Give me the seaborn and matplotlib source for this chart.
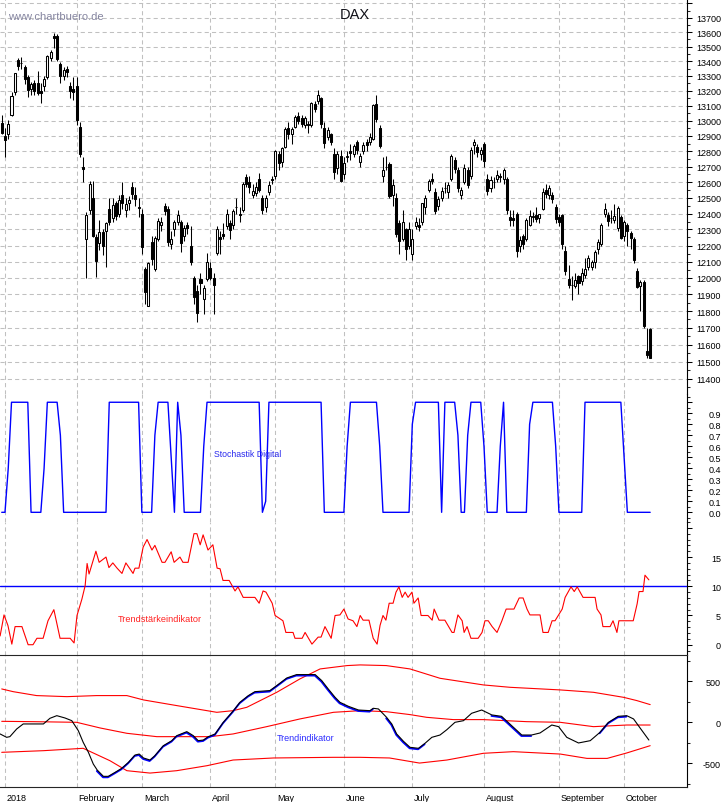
import numpy as np
import pandas as pd
import matplotlib
matplotlib.use("Agg")
import matplotlib.pyplot as plt
import matplotlib.transforms as mtransforms
from matplotlib.ticker import FixedLocator, FuncFormatter, NullFormatter
import seaborn as sns

sns.set_style("white")
plt.rcParams["font.family"] = ["Liberation Sans", "DejaVu Sans"]

# trading calendar (Xetra), position 0 = 2 Jan 2018
holidays = ["2018-01-01", "2018-03-30", "2018-04-02", "2018-05-01", "2018-05-21", "2018-10-03"]
month_names = ["2018", "February", "March", "April", "May", "June", "July",
               "August", "September", "October"]

# DAX daily candles, 29 Dec 2017 .. 12 Oct 2018
open_ = [12985,
         12900, 12910, 13040, 13190, 13405, 13390, 13360, 13290, 13215, 13250, 13255, 13200, 13230, 13290, 13420, 13570, 13575, 13380, 13300, 13350, 13230, 13210,
         13230, 12960, 12700, 12240, 12420, 12500, 12255, 12215, 12285, 12290, 12430, 12370, 12470, 12400, 12520, 12420, 12470, 12570, 12520, 12440,
         12400, 12055, 11831, 12225, 12055, 12240, 12330, 12450, 12430, 12210, 12300, 12350, 12350, 12260, 12330, 12200, 12000, 11920, 11995, 11872, 11995,
         12060, 12002, 12155, 12250, 12270, 12320, 12340, 12330, 12440, 12400, 12420, 12630, 12600, 12520, 12530, 12620, 12500, 12440, 12540, 12620,
         12640, 12780, 12730, 12830, 12950, 12910, 12960, 13030, 13020, 12970, 12980, 12975, 13110, 13130, 13150, 12950, 12890, 12910, 12780, 12690, 12770,
         12650, 12760, 12800, 12780, 12860, 12730, 12800, 12860, 12860, 12880, 13110, 12950, 12640, 12700, 12720, 12520, 12500, 12340, 12240, 12300, 12200,
         12150, 12320, 12330, 12350, 12440, 12550, 12620, 12540, 12450, 12500, 12560, 12540, 12620, 12740, 12680, 12520, 12600, 12680, 12640, 12840, 12830, 12780,
         12850, 12620, 12560, 12600, 12620, 12640, 12620, 12620, 12380, 12370, 12400, 12200, 12260, 12240, 12330, 12380, 12390, 12370, 12430, 12550, 12520, 12520, 12440,
         12380, 12390, 12165, 11995, 11960, 11950, 12010, 11980, 12020, 12070, 12070, 12100, 12180, 12210, 12400, 12390, 12370, 12360, 12310, 12380,
         12260, 12330, 12280, 12240, 12040, 11950, 11975, 11560, 11690]
high = [13040,
        12951, 13005, 13190, 13320, 13420, 13430, 13375, 13305, 13260, 13275, 13330, 13250, 13300, 13440, 13480, 13596, 13590, 13395, 13360, 13370, 13260, 13290,
        13290, 12990, 12760, 12410, 12610, 12610, 12270, 12360, 12300, 12345, 12500, 12500, 12480, 12520, 12600, 12500, 12510, 12600, 12570, 12500,
        12430, 12070, 12100, 12260, 12260, 12370, 12380, 12470, 12450, 12290, 12360, 12420, 12360, 12330, 12350, 12320, 12010, 11960, 12030, 11960, 12155,
        12100, 12030, 12320, 12290, 12340, 12430, 12360, 12430, 12500, 12440, 12600, 12650, 12640, 12590, 12600, 12660, 12520, 12520, 12610, 12640,
        12810, 12800, 12830, 12960, 12990, 12960, 13040, 13060, 13040, 13030, 13000, 13125, 13130, 13204, 13160, 12990, 12960, 12920, 12820, 12800, 12810,
        12760, 12800, 12850, 12850, 12870, 12790, 12860, 12880, 12920, 13110, 13170, 12970, 12760, 12770, 12730, 12620, 12530, 12360, 12420, 12310, 12350,
        12300, 12380, 12370, 12470, 12520, 12620, 12660, 12560, 12510, 12570, 12600, 12600, 12780, 12760, 12700, 12570, 12720, 12700, 12830, 12880, 12850, 12830,
        12860, 12650, 12640, 12630, 12680, 12660, 12690, 12630, 12420, 12420, 12410, 12260, 12270, 12370, 12420, 12410, 12440, 12400, 12560, 12590, 12580, 12540, 12460,
        12400, 12400, 12200, 12080, 12010, 12030, 12020, 12060, 12120, 12140, 12110, 12170, 12240, 12340, 12470, 12410, 12420, 12460, 12450, 12390,
        12360, 12340, 12290, 12250, 12060, 11990, 11990, 11700, 11700]
low = [12915,
       12760, 12880, 13030, 13170, 13340, 13350, 13245, 13160, 13170, 13170, 13170, 13120, 13195, 13280, 13400, 13490, 13400, 13250, 13270, 13290, 13150, 13140,
       12975, 12760, 12600, 12000, 12400, 12250, 12005, 12170, 12140, 12070, 12330, 12350, 12360, 12380, 12430, 12380, 12420, 12490, 12450, 12380,
       12150, 11840, 11830, 12080, 12040, 12230, 12290, 12390, 12200, 12180, 12260, 12330, 12160, 12230, 12270, 12080, 11840, 11735, 11900, 11785, 11980,
       11990, 11780, 12140, 12150, 12240, 12300, 12240, 12300, 12400, 12350, 12410, 12570, 12530, 12500, 12510, 12540, 12400, 12410, 12520, 12590,
       12620, 12680, 12700, 12820, 12880, 12850, 12950, 12980, 12960, 12950, 12920, 12960, 13060, 13110, 12950, 12820, 12870, 12840, 12620, 12650, 12600,
       12620, 12730, 12740, 12760, 12780, 12700, 12780, 12800, 12840, 12870, 12990, 12820, 12600, 12680, 12500, 12450, 12250, 12150, 12230, 12110, 12180,
       12110, 12300, 12290, 12330, 12400, 12540, 12590, 12400, 12420, 12480, 12530, 12500, 12610, 12660, 12540, 12490, 12590, 12560, 12620, 12780, 12760, 12740,
       12700, 12520, 12540, 12560, 12600, 12600, 12590, 12400, 12320, 12320, 12130, 12160, 12180, 12230, 12320, 12350, 12350, 12340, 12420, 12500, 12490, 12470, 12340,
       12320, 12180, 12020, 11940, 11865, 11940, 11900, 11960, 12000, 12050, 12050, 12060, 12150, 12200, 12380, 12320, 12340, 12340, 12290, 12240,
       12230, 12200, 12180, 12090, 11940, 11800, 11700, 11520, 11520]
close = [12918,
         12871, 12978, 13167, 13320, 13368, 13385, 13281, 13203, 13245, 13200, 13184, 13183, 13281, 13434, 13463, 13559, 13414, 13298, 13340, 13324, 13197, 13189,
         13004, 12785, 12687, 12392, 12590, 12260, 12107, 12283, 12196, 12339, 12346, 12452, 12386, 12488, 12470, 12462, 12484, 12527, 12491, 12436,
         12191, 11914, 12091, 12114, 12245, 12356, 12347, 12418, 12221, 12238, 12346, 12390, 12217, 12307, 12309, 12100, 11886, 11787, 11971, 11941, 12097,
         12002, 11958, 12305, 12241, 12262, 12397, 12294, 12415, 12442, 12391, 12586, 12591, 12567, 12541, 12572, 12551, 12422, 12500, 12581, 12612,
         12802, 12724, 12820, 12948, 12912, 12943, 13023, 13001, 12978, 13019, 12970, 13115, 13078, 13170, 12977, 12855, 12938, 12863, 12667, 12784, 12605,
         12724, 12771, 12787, 12831, 12811, 12767, 12843, 12842, 12891, 13107, 13011, 12834, 12678, 12695, 12513, 12580, 12270, 12228, 12349, 12177, 12306,
         12238, 12349, 12318, 12464, 12496, 12610, 12609, 12417, 12493, 12541, 12561, 12581, 12766, 12686, 12562, 12549, 12689, 12579, 12809, 12860, 12798, 12806,
         12738, 12546, 12616, 12598, 12648, 12634, 12676, 12424, 12359, 12359, 12163, 12237, 12211, 12359, 12385, 12386, 12366, 12395, 12539, 12527, 12562, 12494, 12364,
         12346, 12210, 12040, 11955, 11960, 11986, 11970, 12032, 12056, 12124, 12096, 12158, 12219, 12326, 12431, 12351, 12375, 12386, 12436, 12247,
         12347, 12288, 12244, 12112, 11947, 11977, 11712, 11539, 11524]

# Stochastik Digital, one value per trading day
stoch = [0, 0,
         0.4, 1, 1, 1, 1, 1, 1, 0, 0, 0, 0, 0.4, 1, 1, 1, 1, 0.7, 0, 0, 0, 0,
         0, 0, 0, 0, 0, 0, 0, 0, 0, 0, 1, 1, 1, 1, 1, 1, 1, 1, 1, 1,
         0, 0, 0, 0, 0.7, 1, 1, 1, 1, 0.5, 0, 1, 0.7, 0, 0, 0, 0, 0, 0, 0.6, 1,
         1, 1, 1, 1, 1, 1, 1, 1, 1, 1, 1, 1, 1, 1, 1, 1, 0, 0.1, 1, 1,
         1, 1, 1, 1, 1, 1, 1, 1, 1, 1, 1, 1, 1, 1, 1, 0, 0, 0, 0, 0, 0,
         0, 0.6, 1, 1, 1, 1, 1, 1, 1, 1, 1, 0.6, 0, 0, 0, 0, 0, 0, 0, 0, 0,
         0.8, 1, 1, 1, 1, 1, 1, 1, 1, 0, 1, 1, 1, 1, 0.7, 0, 0, 0.7, 1, 1, 1, 1,
         0.6, 0, 0, 0, 0, 0.6, 1, 0, 0, 0, 0, 0, 0, 0, 0.8, 1, 1, 1, 1, 1, 1, 1, 0.6,
         0, 0, 0, 0, 0, 0, 0, 0, 1, 1, 1, 1, 1, 1, 1, 1, 1, 1, 1, 1,
         0.5, 0, 0, 0, 0, 0, 0, 0, 0]

# Trendstaerkeindikator (trading-day position, value)
ts_day = [-1.5, -0.3, 0.9, 2.1, 3.1, 5.2, 7.1, 8.6, 9.8, 11.7,
          13.2, 15, 16.9, 20, 21.2, 22.1, 23.6, 24.6, 25.2, 25.8,
          27.9, 28.9, 31, 31.9, 33.1, 34.4, 35.9, 37.1, 39.3, 39.9,
          41.1, 42.4, 43.6, 45.1, 46, 48.2, 49.1, 51, 51.9, 53.7,
          54.6, 56.2, 58, 58.9, 59.9, 60.8, 62.3, 63.8, 65.1, 66,
          66.9, 68.8, 70.6, 71.5, 73.1, 76.7, 78, 79.2, 80.1, 82,
          82.9, 85.3, 86.2, 88.4, 89, 91.2, 92.1, 94.2, 96.1, 97,
          98.2, 100.1, 101.3, 102.8, 104, 105.3, 106.8, 108, 109, 109.9,
          111.7, 113, 114.2, 115.1, 116, 116.9, 117.9, 119.1, 120, 120.9,
          121.9, 122.8, 123.7, 124.9, 125.5, 126.8, 127.7, 129.8, 131.1, 131.7,
          133.2, 135, 137.2, 137.8, 139, 140.3, 140.9, 141.8, 143, 145.2,
          146.4, 147.3, 148.3, 149.5, 151, 152.5, 153.8, 156.2, 157.8, 159,
          160.2, 161.1, 164.2, 165.1, 166.7, 167.9, 168.8, 171, 171.9, 173.7,
          174.7, 175.6, 177.4, 181.1, 181.7, 182.9, 183.5, 185.7, 186.6, 187.8,
          188.4, 192.8, 194, 194.6, 195.8, 196.4, 197.6]
ts_val = [1.5, 5.1, 3.3, 0.1, 3.1, 3.1, 0, 0, 1.1, 1.1,
          4.1, 6, 1.1, 1.1, 0.3, 5, 7.8, 10.1, 13.9, 12.1,
          16, 14.1, 15, 13.2, 14, 13.1, 12.2, 14, 12.2, 13.1,
          13.1, 16.7, 18, 16.2, 17, 14.1, 14.1, 15.9, 14.1, 15,
          14.1, 14.1, 19, 19, 17.1, 18.8, 16.2, 17.1, 13.1, 13,
          11, 11, 9.2, 9.9, 8.1, 8.1, 7.1, 9.2, 9, 7.1,
          5, 4.1, 2.1, 2.1, 1.1, 1.1, 2.1, 0.1, 1.3, 1.3,
          3.1, 1.1, 5, 5.1, 6.1, 4.4, 4.1, 3.1, 5, 4.2,
          4.2, 1.1, 0.1, 3.3, 5, 4.2, 7.1, 7.1, 9, 9.9,
          8.1, 9, 8.1, 9, 7.1, 8, 5, 5, 4.2, 6.1,
          4.2, 4.2, 2.1, 2.1, 5.1, 4.1, 2.1, 3.1, 1.1, 1.1,
          2.1, 4.1, 4.1, 3.1, 2.1, 4.1, 6.1, 6.1, 8, 8,
          6.1, 5.1, 5.1, 2.1, 2.1, 4.1, 4.1, 6.1, 8.1, 9.9,
          9.1, 9.9, 8.1, 8.1, 6.1, 5.1, 3.1, 3.1, 4.1, 2.1,
          4.1, 4.1, 7, 9.1, 9.1, 11.9, 11.1]
ts_level = 10

# Trendindikator (trading-day position, value) and its bands
trend_day = [-1.5, 0.5, 1.5, 3.6, 5.6, 11.8, 13.8, 15.9, 18.4, 20.5, 22.5, 24, 25.6, 27.1,
             28.3, 30.2, 31.7, 33.8, 35.8, 37.9, 39.9, 41.2, 42.5, 44.5, 46, 48.6, 51.2,
             52.7, 55.8, 57.8, 59.3, 60.9, 62.4, 64.5, 67, 70.1, 72.1, 74.7, 76.7, 81.3,
             83.4, 86.5, 89.5, 95.2, 97.2, 99.2, 101.3, 102.8, 105.4, 108.5, 112, 113,
             114.6, 117.1, 118.7, 120.2, 122.3, 124.3, 126.9, 128.9, 131, 133.5, 135.6,
             138.1, 140.7, 143.2, 146.3, 149.4, 152.4, 155.5, 158.6, 161.6, 164.2, 167.8,
             169.9, 172.4, 176, 179.6, 182.6, 185.2, 188.2, 190.8, 192.9, 194.9, 197.6]
trend_val = [-142, -183, -175, -81, -20, -20, 49, 81, 53, 20, -102, -244, -366, -509,
             -582, -659, -659, -610, -562, -488, -399, -387, -435, -460, -407, -285, -224,
             -163, -114, -163, -224, -216, -175, -142, 0, 142, 244, 326, 374, 387,
             448, 541, 582, 582, 509, 407, 305, 244, 195, 150, 142, 171,
             163, 61, -20, -142, -232, -305, -317, -256, -183, -155, -90,
             0, 20, 110, 150, 90, 73, -41, -155, -155, -130, -33,
             -53, -183, -252, -224, -122, 0, 73, 81, 41, -69, -216]
blue_ranges = [(6, 12), (15, 17), (28, 114), (116, 129), (149, 164), (180, 191)]

upper_day = [-1, 2.5, 9.7, 19, 28.1, 37.4, 42.5, 52.7, 62, 65, 70, 74.2, 83.4, 90.5,
             96.7, 105, 109, 117, 124.3, 133.5, 146.8, 155, 170.4, 180.6, 189.8, 193.9, 198]
upper_val = [407, 374, 326, 313, 326, 326, 273, 204, 142, 122, 142, 183, 366, 529,
             651, 692, 700, 692, 651, 537, 456, 427, 395, 366, 305, 265, 216]
mid_day = [-1, 8.7, 22, 29.2, 37.4, 46.6, 62.9, 70, 80.3, 90.5, 100.8, 109, 117, 124.3,
           129.4, 137.6, 146.8, 160.1, 170.4, 180.6, 190.8, 198]
mid_val = [12, 8, 0, -69, -134, -175, -175, -142, -53, 41, 122, 142, 130, 94,
           61, 33, 33, 8, 0, -53, -33, -33]
low_day = [-1, 11.8, 24, 32.2, 37.4, 44.5, 52.7, 62, 70, 82.4, 100.8, 109, 118, 127.2,
           135.6, 146.8, 156, 170.4, 178.6, 184.8, 190.8, 198]
low_val = [-366, -346, -317, -468, -590, -619, -590, -529, -460, -435, -427, -427, -435, -497,
           -460, -378, -358, -387, -440, -440, -374, -285]

# ---------------------------------------------------------------- calendar
cal = pd.bdate_range("2017-12-29", "2018-10-31")
cal = cal[~cal.isin(pd.to_datetime(holidays))]
pos = np.arange(len(cal)) - 1
s = pd.Series(pos, index=cal)
month_pos = s.groupby([cal.year, cal.month]).first().values
month_pos = month_pos[month_pos >= 0]
monday_pos = pos[cal.weekday == 0]

n = len(close)
x = pos[:n]
o, h, l, c = (np.array(v, dtype=float) for v in (open_, high, low, close))
up = c >= o

# ---------------------------------------------------------------- layout
W, H = 723, 803
fig = plt.figure(figsize=(W / 100, H / 100), dpi=100)


def rect(top, bottom):
    return [0, 1 - bottom / H, 687 / W, (bottom - top) / H]


ax1 = fig.add_axes(rect(0, 395))
ax2 = fig.add_axes(rect(395, 523), sharex=ax1)
ax3 = fig.add_axes(rect(523, 656), sharex=ax1)
ax4 = fig.add_axes(rect(656, 788), sharex=ax1)
axes = [ax1, ax2, ax3, ax4]

grid_kw = dict(color="#c0c0c0", linestyle=(0, (4, 3)), linewidth=0.75)

# ---------------------------------------------------------------- candles
ax1.set_yscale("log")
ax1.vlines(x, l, h, color="black", linewidth=0.75, zorder=2)
ax1.bar(x[up], (c - o)[up], bottom=o[up], width=0.62, color="white",
        edgecolor="black", linewidth=0.75, zorder=3)
ax1.bar(x[~up], (o - c)[~up], bottom=c[~up], width=0.62, color="black",
        edgecolor="black", linewidth=0.75, zorder=3)
ax1.set_ylim(11312, 13831)
levels = np.arange(11300, 13900, 100)
ax1.yaxis.set_major_locator(FixedLocator(levels))
ax1.yaxis.set_major_formatter(FuncFormatter(lambda v, p: f"{v:.0f}" if 11390 < v < 13710 else ""))
ax1.yaxis.set_minor_locator(FixedLocator(levels + 50))
ax1.yaxis.set_minor_formatter(NullFormatter())
ax1.grid(axis="y", which="major", **grid_kw)
ax1.text(0.0116, 0.957, "www.chartbuero.de", transform=ax1.transAxes, fontsize=8,
         color="#8585a0", va="center", ha="left")
ax1.text(0.5167, 0.961, "DAX", transform=ax1.transAxes, fontsize=10.5,
         color="#101018", va="center", ha="center")

# ---------------------------------------------------------------- stochastik
sns.lineplot(x=x, y=stoch, ax=ax2, color="#0000ff", linewidth=1.0, estimator=None)
ax2.set_ylim(-0.088, 1.075)
ax2.yaxis.set_major_locator(FixedLocator(np.round(np.arange(0, 1.01, 0.1), 1)))
ax2.yaxis.set_major_formatter(FuncFormatter(lambda v, p: f"{v:.1f}" if v < 0.95 else ""))
ax2.yaxis.set_minor_locator(FixedLocator(np.arange(-0.05, 1.06, 0.1)))
ax2.yaxis.set_minor_formatter(NullFormatter())
ax2.text(64.1, 0.53, "Stochastik Digital", fontsize=6.3, color="#2a2aee", va="center", ha="left")

# ---------------------------------------------------------------- trend strength
ax3.axhline(ts_level, color="#0000ff", linewidth=1.0, zorder=2)
sns.lineplot(x=ts_day, y=ts_val, ax=ax3, color="#ff0000", linewidth=0.8, estimator=None, zorder=3)
ax3.set_ylim(-1.76, 21.0)
ax3.yaxis.set_major_locator(FixedLocator([0, 5, 10, 15, 20]))
ax3.yaxis.set_major_formatter(FuncFormatter(lambda v, p: f"{v:.0f}" if v < 18 else ""))
ax3.yaxis.set_minor_locator(FixedLocator(np.arange(-1, 22, 1)))
ax3.yaxis.set_minor_formatter(NullFormatter())
ax3.text(34.7, 4.57, "Trendstärkeindikator", fontsize=6.6, color="#ff2222", va="center", ha="left")

# ---------------------------------------------------------------- trend indicator
for d, v in ((upper_day, upper_val), (mid_day, mid_val), (low_day, low_val)):
    sns.lineplot(x=d, y=v, ax=ax4, color="#ff0000", linewidth=0.8, estimator=None)

tr = pd.DataFrame({"day": trend_day, "val": trend_val})
tr["seg"] = -1
for k, (a, b) in enumerate(blue_ranges):
    tr.loc[(tr.day >= a) & (tr.day <= b), "seg"] = k
blue = tr[tr.seg >= 0]
sns.lineplot(data=blue, x="day", y="val", units="seg", estimator=None, ax=ax4,
             color="#0000ff", linewidth=1.3, zorder=3)
# blue trace sits a pixel below the black one
nudge = mtransforms.ScaledTranslation(-0.4 / 100, -1.0 / 100, fig.dpi_scale_trans)
for ln in ax4.lines[3:]:
    ln.set_transform(ln.get_transform() + nudge)
sns.lineplot(data=tr, x="day", y="val", estimator=None, ax=ax4, color="black",
             linewidth=0.8, zorder=4)
ax4.set_ylim(-789, 821)
ax4.yaxis.set_major_locator(FixedLocator([-500, 0, 500]))
ax4.yaxis.set_major_formatter(FuncFormatter(lambda v, p: f"{v:.0f}"))
ax4.yaxis.set_minor_locator(FixedLocator(np.arange(-750, 800, 250)))
ax4.yaxis.set_minor_formatter(NullFormatter())
ax4.text(83.5, -185, "Trendindikator", fontsize=6.5, color="#2a2aff", va="center", ha="left")

# ---------------------------------------------------------------- shared x axis
ax4.set_xlim(-1.53, 209.3)
ax4.xaxis.set_major_locator(FixedLocator(month_pos))
ax4.xaxis.set_minor_locator(FixedLocator(monday_pos))
ax4.set_xticklabels(month_names)

for ax in axes:
    ax.set_xlabel("")
    ax.set_ylabel("")
    ax.set_axisbelow(True)
    ax.patch.set_alpha(0)
    ax.grid(axis="x", which="major", **grid_kw)
    for side in ("left", "top", "bottom"):
        ax.spines[side].set_visible(False)
    ax.spines["right"].set_color("black")
    ax.spines["right"].set_linewidth(0.8)
    ax.yaxis.tick_right()
    ax.tick_params(axis="y", which="major", direction="out", length=3.6, width=0.75,
                   labelsize=6.5, pad=20.9, colors="black", right=True, left=False)
    ax.tick_params(axis="y", which="minor", direction="out", length=2.0, width=0.75,
                   right=True, left=False)
    if ax is not ax4:
        ax.tick_params(axis="x", which="both", length=0, labelbottom=False)
    for t in ax.yaxis.get_major_ticks():
        t.label2.set_horizontalalignment("right")

ax4.spines["top"].set_visible(True)
ax4.spines["bottom"].set_visible(True)
ax4.spines["top"].set_linewidth(0.8)
ax4.spines["bottom"].set_linewidth(0.8)
ax4.tick_params(axis="x", which="both", direction="out", length=3.6, width=0.75,
                labelsize=6.5, pad=1.0, colors="black")
shift = mtransforms.ScaledTranslation(2 / 100, 0, fig.dpi_scale_trans)
for lab in ax4.get_xticklabels():
    lab.set_horizontalalignment("left")
    lab.set_transform(lab.get_transform() + shift)

fig.savefig("out.png", dpi=100)
